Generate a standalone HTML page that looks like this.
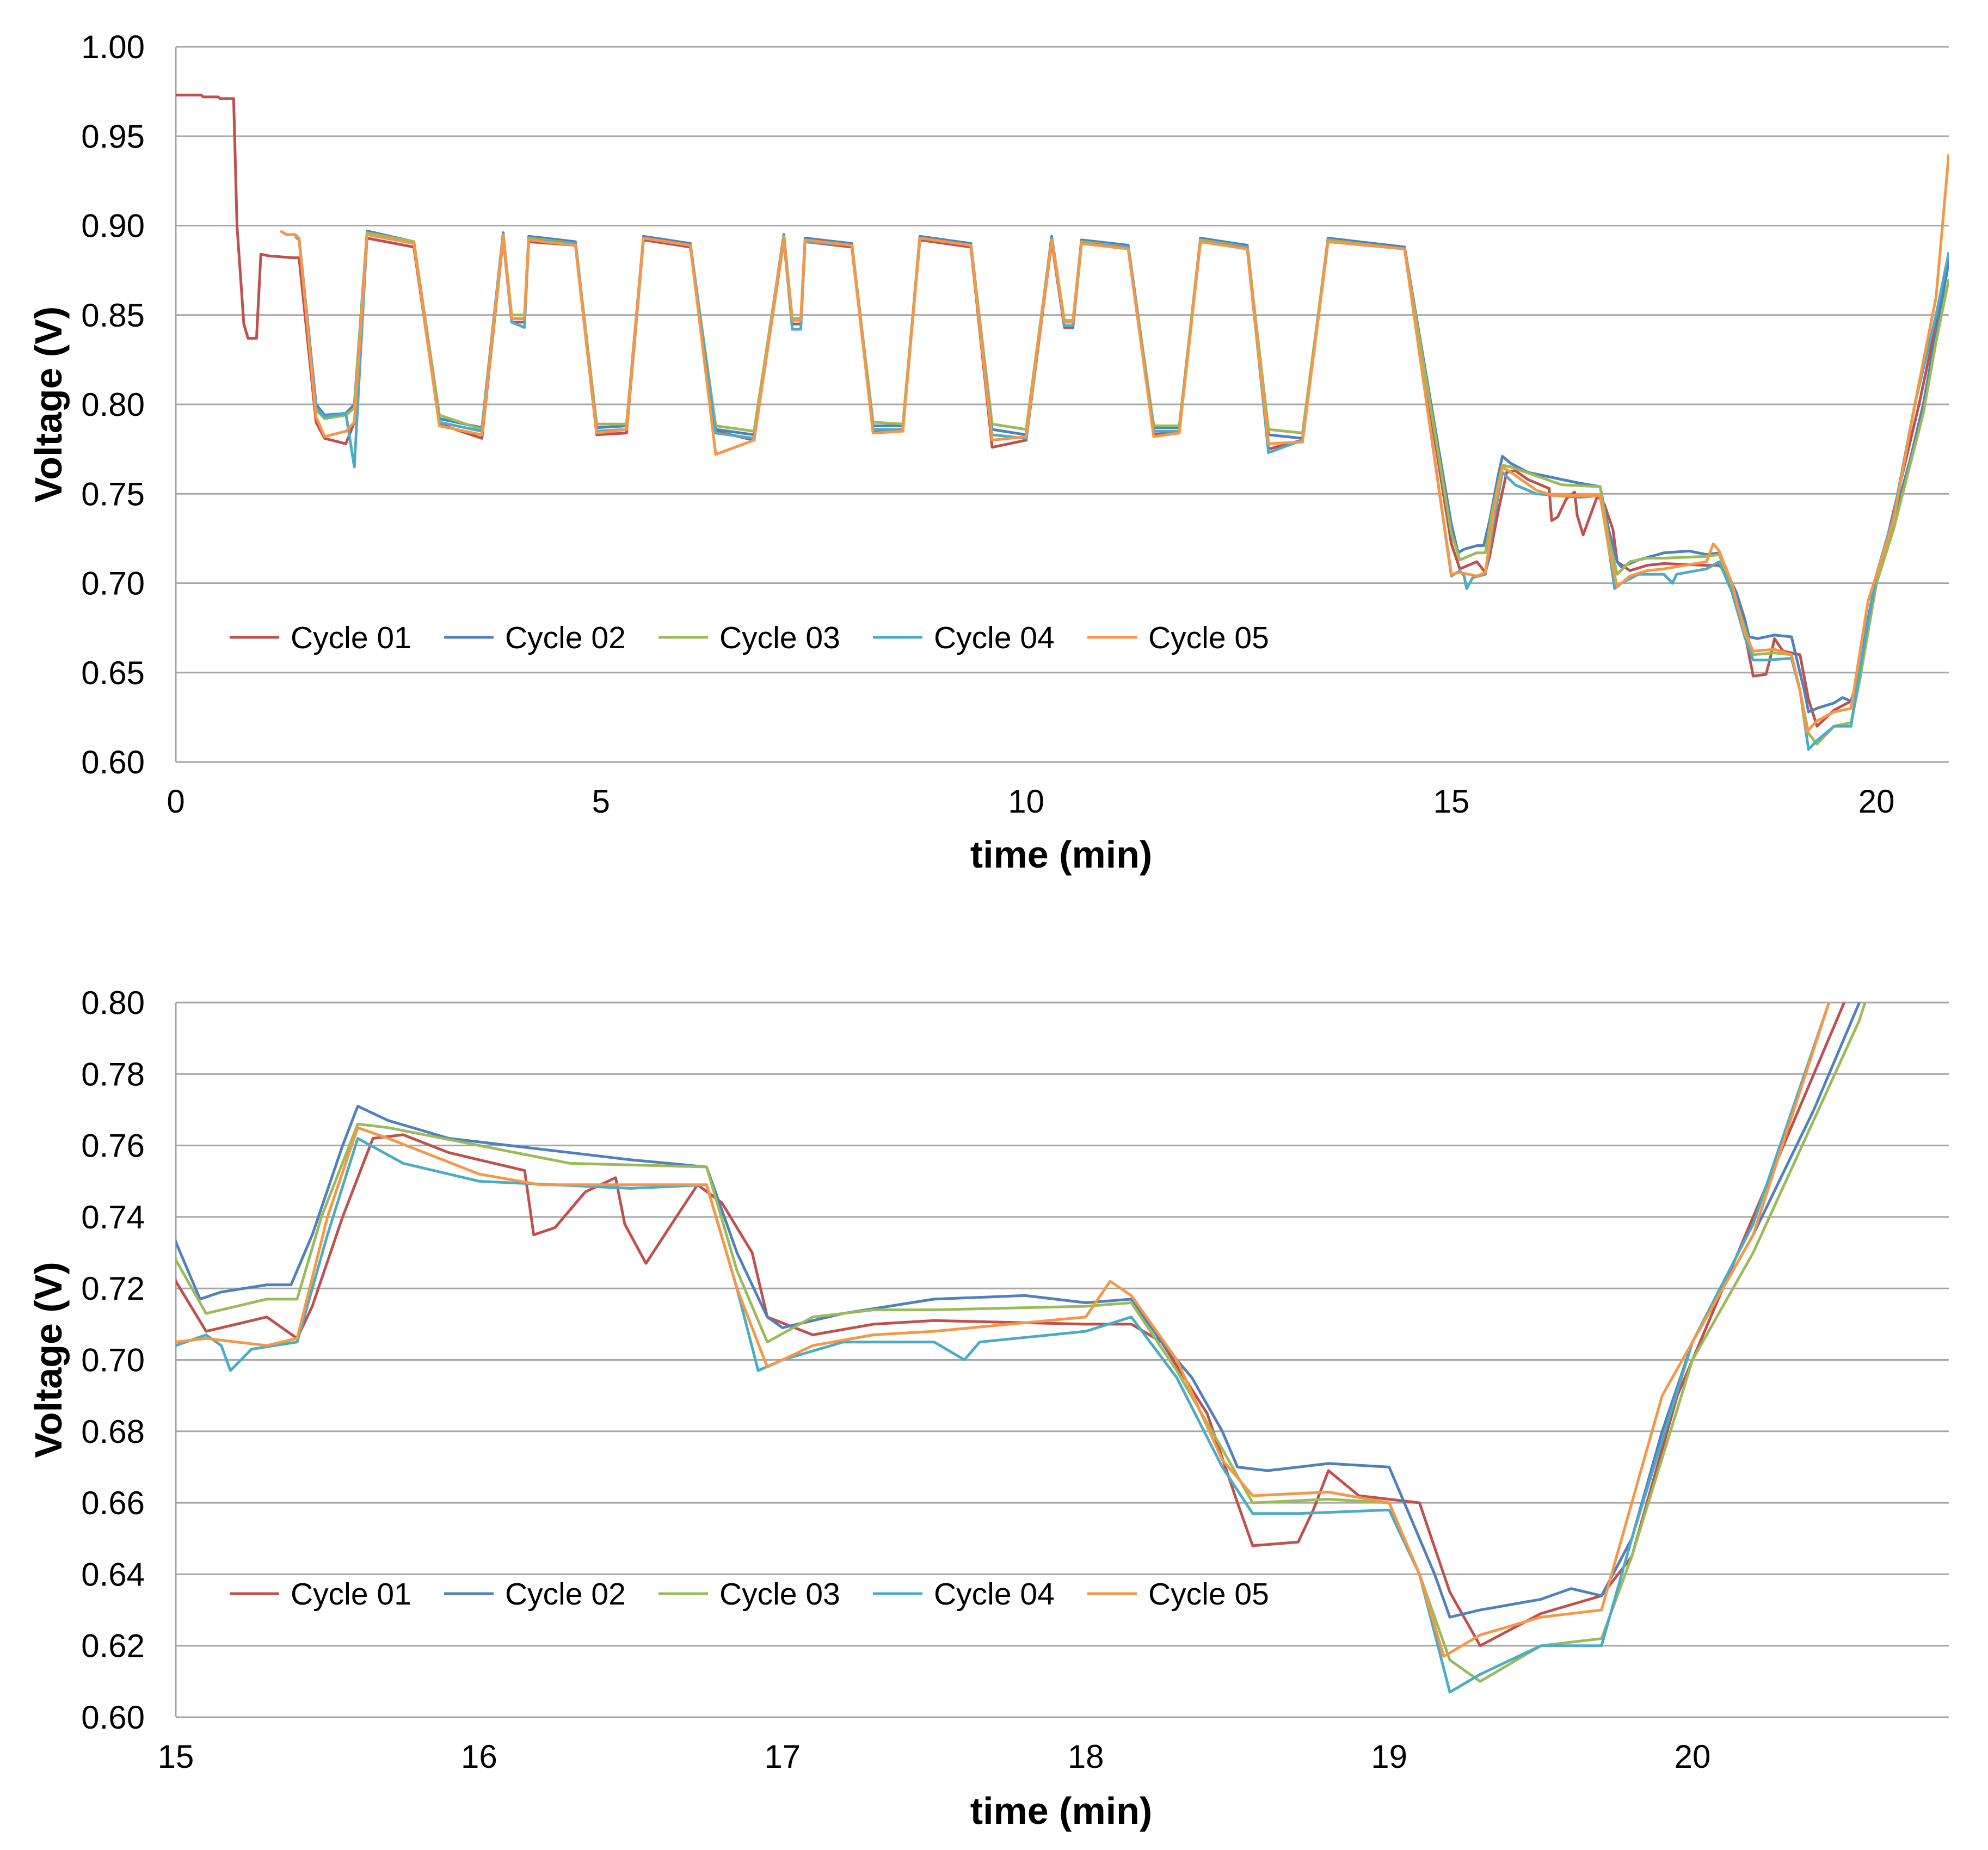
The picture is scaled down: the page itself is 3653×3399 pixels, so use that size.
<!DOCTYPE html>
<html><head><meta charset="utf-8"><style>
html,body{margin:0;padding:0;background:#fff}
svg{display:block;font-family:"Liberation Sans",Arial,sans-serif}
</style></head><body>
<svg id="svg" width="3653" height="3399" viewBox="0 0 3653 3399" xmlns="http://www.w3.org/2000/svg">
<defs>
<clipPath id="clipTop"><rect x="323" y="86" width="3258" height="1314"/></clipPath>
<clipPath id="clipBot"><rect x="323" y="1842" width="3258" height="1313"/></clipPath>
</defs>
<g id="top"></g>
<g id="bot"></g>
</svg>
<script>
const colors = ['#C0504D','#4F81BD','#9BBB59','#4BACC6','#F79646'];
const names = ['Cycle 01','Cycle 02','Cycle 03','Cycle 04','Cycle 05'];
const topYTicks = ['0.60','0.65','0.70','0.75','0.80','0.85','0.90','0.95','1.00'];
const topXTicks = [0,5,10,15,20];
const botYTicks = ['0.60','0.62','0.64','0.66','0.68','0.70','0.72','0.74','0.76','0.78','0.80'];
const botXTicks = [15,16,17,18,19,20];

const c1PreT = [0,0.3,0.32,0.5,0.52,0.68,0.72,0.8,0.85,0.95,1.0,1.1,1.38];
const c1PreV = [0.973,0.973,0.972,0.972,0.971,0.971,0.90,0.845,0.837,0.837,0.884,0.883,0.882];
const c5PreT = [1.23,1.3];
const c5PreV = [0.897,0.895];

const earlyT = [1.40,1.45,1.65,1.75,2.0,2.1,2.25,2.8,3.1,3.6,3.85,3.95,4.1,4.15,4.7,4.95,5.3,5.5,6.05,6.35,6.8,7.15,7.25,7.35,7.4,7.95,8.2,8.55,8.75,9.35,9.6,10.0,10.3,10.45,10.55,10.65,11.2,11.5,11.8,12.05,12.6,12.85,13.25,13.55,14.45];
const c1EarlyV = [0.882,0.882,0.790,0.781,0.778,0.790,0.893,0.888,0.789,0.781,0.893,0.846,0.846,0.891,0.889,0.783,0.784,0.892,0.888,0.785,0.780,0.892,0.845,0.845,0.891,0.888,0.785,0.786,0.892,0.888,0.776,0.780,0.891,0.843,0.843,0.890,0.887,0.783,0.785,0.891,0.887,0.775,0.780,0.891,0.887];
const c2EarlyV = [0.895,0.893,0.800,0.794,0.795,0.800,0.897,0.891,0.792,0.787,0.896,0.848,0.848,0.894,0.891,0.787,0.788,0.894,0.890,0.786,0.783,0.895,0.847,0.847,0.893,0.890,0.788,0.788,0.894,0.890,0.786,0.783,0.894,0.846,0.846,0.892,0.889,0.787,0.787,0.893,0.889,0.783,0.781,0.893,0.888];
const c3EarlyV = [0.894,0.893,0.797,0.792,0.794,0.798,0.896,0.891,0.794,0.786,0.895,0.850,0.850,0.893,0.890,0.789,0.789,0.893,0.889,0.788,0.785,0.894,0.848,0.848,0.892,0.889,0.790,0.789,0.893,0.889,0.789,0.786,0.893,0.847,0.847,0.891,0.888,0.788,0.788,0.892,0.888,0.786,0.784,0.892,0.887];
const c4EarlyV = [0.894,0.892,0.798,0.793,0.795,0.765,0.895,0.890,0.790,0.785,0.894,0.846,0.843,0.892,0.890,0.785,0.786,0.893,0.889,0.784,0.781,0.893,0.842,0.842,0.891,0.889,0.786,0.786,0.893,0.889,0.783,0.781,0.893,0.844,0.844,0.890,0.888,0.785,0.785,0.891,0.888,0.773,0.780,0.891,0.887];
const c5EarlyV = [0.895,0.893,0.793,0.782,0.785,0.790,0.895,0.890,0.788,0.783,0.894,0.848,0.848,0.892,0.889,0.784,0.786,0.893,0.889,0.772,0.780,0.893,0.847,0.847,0.892,0.889,0.784,0.785,0.893,0.889,0.780,0.782,0.892,0.846,0.846,0.890,0.887,0.782,0.784,0.891,0.887,0.778,0.779,0.891,0.887];

const c1LateT = [15.0,15.1,15.2,15.3,15.4,15.45,15.55,15.65,15.75,15.9,16.0,16.15,16.18,16.25,16.35,16.45,16.48,16.55,16.65,16.72,16.8,16.9,16.95,17.1,17.3,17.5,18.0,18.15,18.25,18.4,18.5,18.55,18.7,18.75,18.8,18.9,19.1,19.2,19.3,19.5,19.7,19.8,19.95,20.2,20.5,20.7,20.85];
const c1LateV = [0.722,0.708,0.710,0.712,0.706,0.715,0.740,0.762,0.763,0.758,0.756,0.753,0.735,0.737,0.747,0.751,0.738,0.727,0.740,0.749,0.744,0.730,0.712,0.707,0.710,0.711,0.710,0.710,0.705,0.685,0.660,0.648,0.649,0.658,0.669,0.662,0.660,0.635,0.620,0.629,0.634,0.645,0.690,0.740,0.800,0.845,0.885];
const c2LateT = [15.0,15.08,15.15,15.3,15.38,15.45,15.55,15.6,15.7,15.9,16.3,16.5,16.75,16.85,16.95,17.0,17.2,17.5,17.8,18.0,18.15,18.25,18.35,18.45,18.5,18.6,18.8,19.0,19.05,19.15,19.2,19.3,19.5,19.6,19.7,19.8,19.9,20.0,20.2,20.4,20.55,20.7,20.85];
const c2LateV = [0.733,0.717,0.719,0.721,0.721,0.735,0.760,0.771,0.767,0.762,0.758,0.756,0.754,0.730,0.712,0.709,0.713,0.717,0.718,0.716,0.717,0.705,0.695,0.680,0.670,0.669,0.671,0.670,0.660,0.640,0.628,0.630,0.633,0.636,0.634,0.650,0.680,0.705,0.735,0.770,0.800,0.840,0.880];
const c3LateT = [15.0,15.1,15.2,15.3,15.4,15.48,15.6,15.7,16.0,16.3,16.75,16.85,16.95,17.1,17.3,17.5,18.0,18.15,18.3,18.45,18.55,18.8,19.0,19.1,19.2,19.3,19.5,19.7,19.8,20.0,20.2,20.55,20.7,20.85];
const c3LateV = [0.728,0.713,0.715,0.717,0.717,0.740,0.766,0.765,0.760,0.755,0.754,0.725,0.705,0.712,0.714,0.714,0.715,0.716,0.697,0.675,0.660,0.661,0.660,0.640,0.616,0.610,0.620,0.622,0.645,0.700,0.730,0.795,0.835,0.870];
const c4LateT = [15.0,15.1,15.15,15.18,15.25,15.4,15.5,15.6,15.75,16.0,16.5,16.75,16.85,16.92,17.0,17.2,17.5,17.6,17.65,18.0,18.15,18.3,18.45,18.55,18.7,19.0,19.1,19.2,19.3,19.5,19.7,19.8,20.0,20.2,20.45,20.7,20.85];
const c4LateV = [0.704,0.707,0.704,0.697,0.703,0.705,0.735,0.762,0.755,0.750,0.748,0.749,0.720,0.697,0.700,0.705,0.705,0.700,0.705,0.708,0.712,0.695,0.670,0.657,0.657,0.658,0.640,0.607,0.612,0.620,0.620,0.650,0.705,0.738,0.800,0.850,0.885];
const c5LateT = [15.0,15.1,15.3,15.4,15.5,15.6,15.7,16.0,16.2,16.75,16.85,16.95,17.1,17.3,17.5,18.0,18.08,18.15,18.3,18.45,18.55,18.8,19.0,19.1,19.18,19.3,19.5,19.7,19.75,19.9,20.2,20.45,20.7,20.85];
const c5LateV = [0.705,0.706,0.704,0.706,0.740,0.765,0.762,0.752,0.749,0.749,0.720,0.698,0.704,0.707,0.708,0.712,0.722,0.718,0.700,0.672,0.662,0.663,0.660,0.640,0.617,0.623,0.628,0.630,0.645,0.690,0.735,0.800,0.860,0.940];

const NS='http://www.w3.org/2000/svg';
function mk(tag, parent, attrs){const e=document.createElementNS(NS,tag);for(const k in attrs)e.setAttribute(k,attrs[k]);parent.appendChild(e);return e;}

function series(i){
  const pre=[[],[]], early=[c1EarlyV,c2EarlyV,c3EarlyV,c4EarlyV,c5EarlyV][i];
  const lt=[c1LateT,c2LateT,c3LateT,c4LateT,c5LateT][i], lv=[c1LateV,c2LateV,c3LateV,c4LateV,c5LateV][i];
  let pts=[];
  if(i===0) c1PreT.forEach((t,k)=>pts.push([t,c1PreV[k]]));
  if(i===4) c5PreT.forEach((t,k)=>pts.push([t,c5PreV[k]]));
  earlyT.forEach((t,k)=>pts.push([t,early[k]]));
  lt.forEach((t,k)=>pts.push([t,lv[k]]));
  return pts;
}

function chart(g, cfg){
  const X=v=>cfg.x0+(v-cfg.xmin)/(cfg.xmax-cfg.xmin)*(cfg.x1-cfg.x0);
  const Y=v=>cfg.y1-(v-cfg.ymin)/(cfg.ymax-cfg.ymin)*(cfg.y1-cfg.y0);
  cfg.yt.forEach(s=>{
    const y=Y(parseFloat(s));
    const l=mk('line',g,{x1:cfg.x0,x2:cfg.x1,y1:y,y2:y,stroke:'#a6a6a6','stroke-width':3});
    
    
    const t=mk('text',g,{x:266,y:y+21,'text-anchor':'end','font-size':60,fill:'#000'});
    t.textContent=s;
    
    
  });
  const ax=mk('line',g,{x1:cfg.x0,x2:cfg.x0,y1:cfg.y0,y2:cfg.y1,stroke:'#a6a6a6','stroke-width':3});
  
  
  cfg.xt.forEach(v=>{
    const t=mk('text',g,{x:X(v),y:cfg.y1+93,'text-anchor':'middle','font-size':60,fill:'#000'});
    t.textContent=v;
    
    
  });
  const lg=mk('g',g,{'clip-path':cfg.clip});
  
  
  for(let i=0;i<5;i++){
    const d=series(i).map((p,k)=>(k?'L':'M')+X(p[0]).toFixed(1)+' '+Y(p[1]).toFixed(1)).join(' ');
    const p=mk('path',lg,{d:d,fill:'none',stroke:colors[i],'stroke-width':5,'stroke-linejoin':'round'});
    
    
  }
  for(let i=0;i<5;i++){
    const lx=422+i*394;
    const l=mk('line',g,{x1:lx,x2:lx+91,y1:cfg.leg,y2:cfg.leg,stroke:colors[i],'stroke-width':5});
    
    
    const t=mk('text',g,{x:lx+112,y:cfg.leg+20,'font-size':57,fill:'#000'});
    t.textContent=names[i];
    
    
  }
  const xt=mk('text',g,{x:1950,y:cfg.xtitle,'text-anchor':'middle','font-size':70,'font-weight':'bold',fill:'#000'});
  xt.textContent='time (min)';
  
  
  const yc=(cfg.y0+cfg.y1)/2;
  const yt=mk('text',g,{x:0,y:0,transform:'translate(113,'+yc+') rotate(-90)','text-anchor':'middle','font-size':70,'font-weight':'bold',fill:'#000'});
  yt.textContent='Voltage (V)';
  
  
}
chart(document.getElementById('top'),{x0:323,x1:3581,y0:86,y1:1400,xmin:0,xmax:20.85,ymin:0.6,ymax:1.0,yt:topYTicks,xt:topXTicks,clip:'url(#clipTop)',leg:1171,xtitle:1594});
chart(document.getElementById('bot'),{x0:323,x1:3581,y0:1842,y1:3155,xmin:15,xmax:20.845,ymin:0.6,ymax:0.8,yt:botYTicks,xt:botXTicks,clip:'url(#clipBot)',leg:2928,xtitle:3351});
</script>
</body></html>
